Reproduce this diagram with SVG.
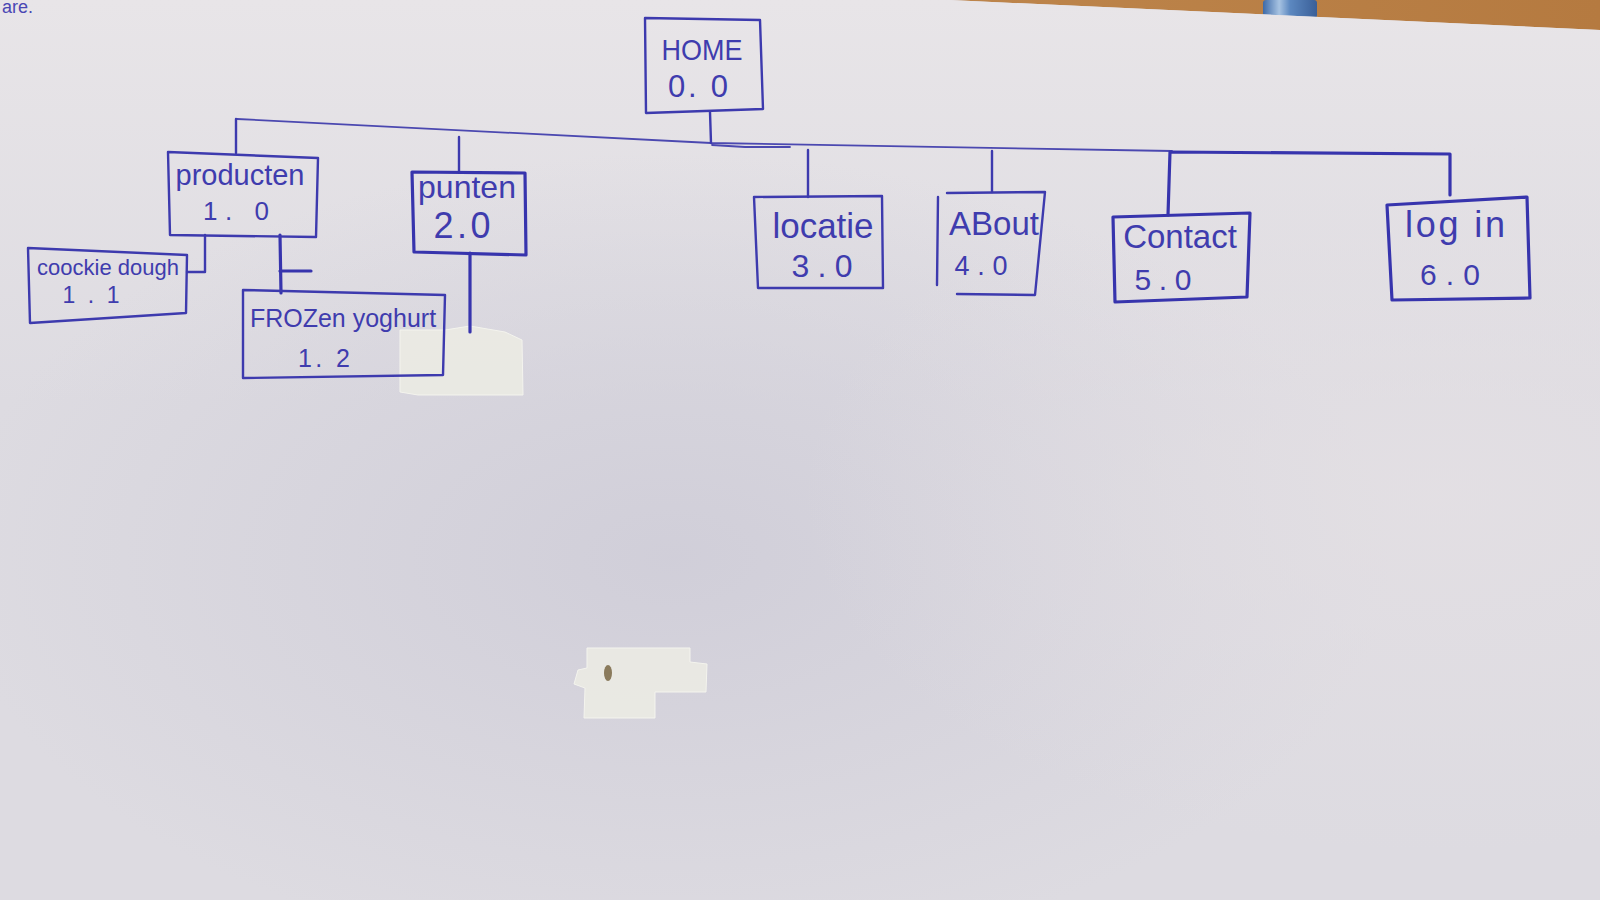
<svg xmlns="http://www.w3.org/2000/svg" width="1600" height="900" viewBox="0 0 1600 900">
<defs>
<linearGradient id="wood" x1="0" y1="0" x2="1" y2="0">
<stop offset="0" stop-color="#c9955c"/>
<stop offset="1" stop-color="#b57a40"/>
</linearGradient>
<linearGradient id="pen" x1="0" y1="0" x2="1" y2="0">
<stop offset="0" stop-color="#3d6aa8"/>
<stop offset="0.3" stop-color="#a7c3e2"/>
<stop offset="0.5" stop-color="#5c88c0"/>
<stop offset="1" stop-color="#3a5f98"/>
</linearGradient>
<linearGradient id="topLight" x1="0" y1="0" x2="0" y2="1">
<stop offset="0" stop-color="#e8e5e8" stop-opacity="1"/>
<stop offset="0.45" stop-color="#e8e5e8" stop-opacity="0"/>
</linearGradient>
<radialGradient id="shade" cx="0.42" cy="0.62" r="0.45">
<stop offset="0" stop-color="#cfcdd8" stop-opacity="0.9"/>
<stop offset="1" stop-color="#cfcdd8" stop-opacity="0"/>
</radialGradient>
<radialGradient id="rightLight" cx="0.9" cy="0.55" r="0.4">
<stop offset="0" stop-color="#e4e0e4" stop-opacity="0.8"/>
<stop offset="1" stop-color="#e4e0e4" stop-opacity="0"/>
</radialGradient>
<style>
.ink{fill:none;stroke:#3d3aae;stroke-width:2.4;stroke-linejoin:round;stroke-linecap:round}
.thin{fill:none;stroke:#4b48b0;stroke-width:1.8;stroke-linecap:round}
.thick{fill:none;stroke:#3734ad;stroke-width:3.2;stroke-linejoin:round;stroke-linecap:round}
.t{font-family:"Liberation Sans","DejaVu Sans",sans-serif;fill:#3f3cae;text-anchor:middle}
.tape{fill:#ecece4;fill-opacity:0.85;stroke:#f4f4ee;stroke-width:1}
</style>
</defs>

<!-- background: table, pen, paper -->
<rect x="0" y="0" width="1600" height="900" fill="url(#wood)"/>
<rect x="1263" y="0" width="54" height="18" rx="3" fill="url(#pen)"/>
<polygon points="0,0 950,0 1600,30 1600,900 0,900" fill="#dddbe1"/>
<polygon points="0,0 950,0 1600,30 1600,900 0,900" fill="url(#topLight)"/>
<polygon points="0,0 950,0 1600,30 1600,900 0,900" fill="url(#shade)"/>
<polygon points="0,0 950,0 1600,30 1600,900 0,900" fill="url(#rightLight)"/>
<text x="2" y="13" font-family="Liberation Sans, sans-serif" font-size="18" fill="#4a47b4">are.</text>

<!-- tape pieces -->
<g id="tape1">
<polygon class="tape" points="400,330 445,330 470,326 505,332 522,340 523,395 418,395 400,392"/>
</g>
<g id="tape2">
<polygon class="tape" points="587,648 690,648 690,662 707,664 706,692 655,692 655,718 584,718 585,688 574,684 578,670 587,668"/>
<ellipse cx="608" cy="673" rx="4" ry="8" fill="#8a7a5c"/>
</g>

<!-- connectors -->
<g id="connectors">
<polyline class="thin" points="237,119 711,143 1172,151"/>
<polyline class="thin" points="712,145 745,147 790,147"/>
<line class="ink" x1="236" y1="119" x2="236" y2="153"/>
<line class="ink" x1="710" y1="112" x2="711" y2="143"/>
<line class="ink" x1="459" y1="137" x2="459" y2="172"/>
<line class="ink" x1="808" y1="150" x2="808" y2="197"/>
<line class="ink" x1="992" y1="151" x2="992" y2="192"/>
<polyline class="thick" points="1168,215 1170,152 1450,154 1450,195"/>
<polyline class="ink" points="205,235 205,272 187,272"/>
<line class="thick" x1="280" y1="235" x2="281" y2="293"/>
<line class="thick" x1="280" y1="271" x2="311" y2="271"/>
<line class="thick" x1="470" y1="253" x2="470" y2="332"/>
</g>

<!-- nodes -->
<g id="home">
<polygon class="ink" points="645,18 760,20 763,109 646,113"/>
<text class="t" x="702" y="60" font-size="29" textLength="81" lengthAdjust="spacingAndGlyphs">HOME</text>
<text class="t" x="698" y="97" font-size="31" textLength="60">0. 0</text>
</g>
<g id="producten">
<polygon class="ink" points="168,152 318,158 316,237 170,235"/>
<text class="t" x="240" y="185" font-size="29">producten</text>
<text class="t" x="236" y="220" font-size="26" textLength="66">1. 0</text>
</g>
<g id="cookie-dough">
<polygon class="ink" points="28,248 187,255 186,313 30,323"/>
<text class="t" x="108" y="275" font-size="22">coockie dough</text>
<text class="t" x="91" y="303" font-size="23" textLength="57">1.1</text>
</g>
<g id="frozen-yoghurt">
<polygon class="ink" points="243,290 445,295 443,375 243,378"/>
<text class="t" x="343" y="327" font-size="25">FROZen yoghurt</text>
<text class="t" x="324" y="367" font-size="25" textLength="52">1. 2</text>
</g>
<g id="punten">
<polygon class="thick" points="412,172 525,173 526,255 414,252"/>
<text class="t" x="467" y="198" font-size="32">punten</text>
<text class="t" x="462" y="238" font-size="36" textLength="57">2.0</text>
</g>
<g id="locatie">
<polygon class="ink" points="754,197 882,196 883,288 758,288"/>
<text class="t" x="823" y="238" font-size="35">locatie</text>
<text class="t" x="822" y="277" font-size="32" textLength="61">3.0</text>
</g>
<g id="about">
<path class="ink" d="M938,197 L937,285 M947,193 L1045,192 L1035,295 L957,294"/>
<text class="t" x="994" y="235" font-size="33">ABout</text>
<text class="t" x="981" y="275" font-size="27" textLength="53">4.0</text>
</g>
<g id="contact">
<polygon class="thick" points="1113,217 1250,213 1247,297 1115,302"/>
<text class="t" x="1180" y="248" font-size="33">Contact</text>
<text class="t" x="1163" y="290" font-size="30" textLength="57">5.0</text>
</g>
<g id="login">
<polygon class="thick" points="1387,205 1527,197 1530,298 1392,300"/>
<text class="t" x="1455" y="237" font-size="36" textLength="100">log in</text>
<text class="t" x="1450" y="285" font-size="30" textLength="60">6.0</text>
</g>
</svg>
